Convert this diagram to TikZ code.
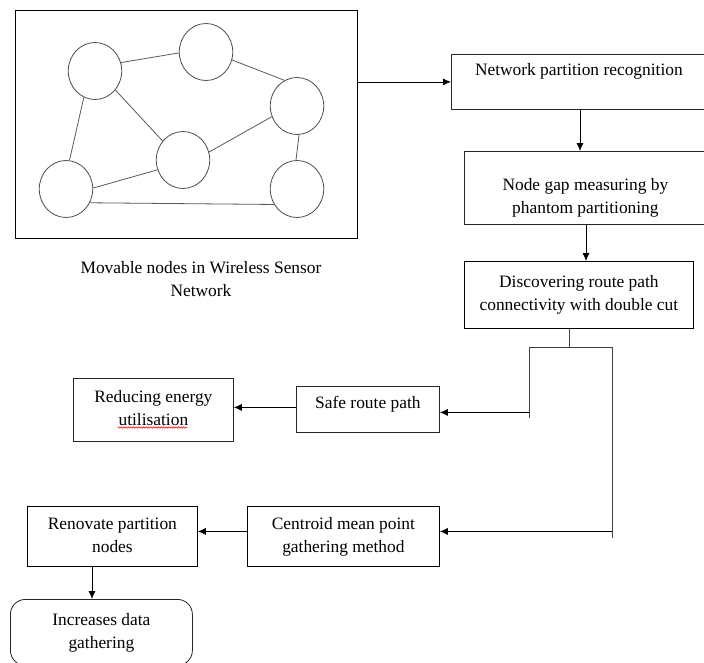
\documentclass[tikz,border=0pt]{standalone}
\usepackage{fontspec}
\setmainfont{Liberation Serif}
\usetikzlibrary{arrows.meta,shapes.geometric,decorations.pathmorphing}
\newcommand\bxtext[4]{\parbox[t][#2][t]{#1}{\centering\rule{0pt}{#3}#4}}
\begin{document}
\begin{tikzpicture}[x=1pt,y=-1pt,
  line width=0.8pt,
  every node/.style={font=\fontsize{17.4}{23}\selectfont},
  proc/.style={draw=black!85, rectangle, inner sep=0pt, anchor=north west},
  sens/.style={draw=black!70, ellipse, inner sep=0pt, minimum width=53.5pt, minimum height=57pt},
  link/.style={draw=black!65, line width=0.8pt},
  arr/.style={draw=black, -{Latex[length=8pt,width=7pt]}},
  conn/.style={draw=black!75}]
\useasboundingbox (0,0) rectangle (704,662);
% network frame
\node[draw=black, rectangle, inner sep=0pt, anchor=north west, minimum width=342pt, minimum height=228pt] (frame) at (15,10) {};
\node[sens] (C1) at (95,71) {};
\node[sens] (C2) at (206,52) {};
\node[sens] (C3) at (297,106) {};
\node[sens] (C4) at (183,160) {};
\node[sens] (C5) at (66,189) {};
\node[sens] (C6) at (297,189) {};
\draw[link] (C1.18) -- (C2.182);
\draw[link] (C2.-17) -- (C3.116);
\draw[link] (C1.-43) -- (C4.137);
\draw[link] (C1.-113) -- (C5.83);
\draw[link] (C3.203) -- (C4.17);
\draw[link] (C3.-86) -- (C6.92);
\draw[link] (C4.201) -- (C5.2);
\draw[link] (C5.-30) -- (C6.214);
\node[inner sep=0pt, anchor=north] (cap) at (201,250) {\parbox[t]{320pt}{\centering\rule{0pt}{23pt}Movable nodes in Wireless Sensor\\Network}};
% process boxes
\node[proc] (b1) at (451,54) {\bxtext{255pt}{55pt}{21pt}{Network partition recognition}};
\node[proc] (b2) at (464,151) {\bxtext{242pt}{73pt}{39pt}{Node gap measuring by\\phantom partitioning}};
\node[proc, draw=black] (b3) at (464,261) {\bxtext{229pt}{67pt}{26pt}{Discovering route path\\connectivity with double cut}};
\node[proc] (safe) at (296,386) {\bxtext{143pt}{46pt}{22pt}{Safe route path}};
\node[proc] (red) at (73,378) {\bxtext{160pt}{63pt}{24pt}{Reducing energy\\utilisation}};
\node[proc, draw=black] (cent) at (247,506) {\bxtext{192pt}{60pt}{23pt}{Centroid mean point\\gathering method}};
\node[proc, draw=black] (reno) at (27,506) {\bxtext{170pt}{60pt}{23pt}{Renovate partition\\nodes}};
\node[proc, rounded corners=15pt] (inc) at (10,599) {\bxtext{182pt}{66pt}{26pt}{Increases data\\gathering}};
% spell-check underline
\draw[red, line width=0.5pt, decorate, decoration={zigzag, amplitude=0.8pt, segment length=2.5pt}] (118,427.5) -- (187,427.5);
% connector points
\coordinate (a1) at (580,0);
\coordinate (a2) at (586,0);
\coordinate (j) at (569,347);
\coordinate (bl) at (529,347);
\coordinate (br) at (612,347);
\coordinate (blend) at (529,418);
\coordinate (brend) at (612,538);
\coordinate (a5) at (92,0);
% connectors
\draw[arr] (frame.east |- b1.west) -- (b1.west);
\draw[arr] (b1.south -| a1) -- (b2.north -| a1);
\draw[arr] (b2.south -| a2) -- (b3.north -| a2);
\draw[conn] (b3.south -| j) -- (j);
\draw[conn] (bl) -- (br);
\draw[conn] (bl) -- (blend);
\draw[conn] (br) -- (brend);
\draw[arr] ([yshift=-3pt]safe.east -| bl) -- ([yshift=-3pt]safe.east);
\draw[arr] ([yshift=5pt]cent.east -| br) -- ([yshift=5pt]cent.east);
\draw[arr] ([yshift=2pt]safe.west) -- ([yshift=2pt]safe.west -| red.east);
\draw[arr] ([yshift=5pt]cent.west) -- ([yshift=5pt]cent.west -| reno.east);
\draw[arr] (reno.south -| a5) -- (inc.north -| a5);
\end{tikzpicture}
\end{document}
